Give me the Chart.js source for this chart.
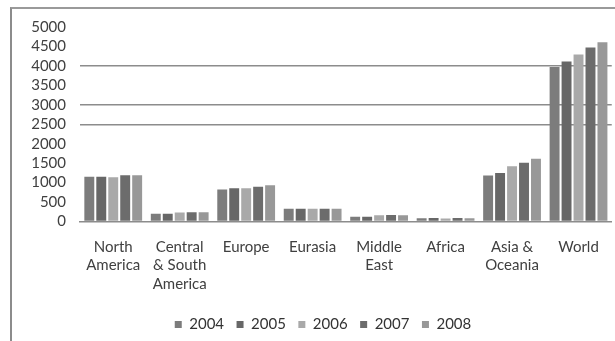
<!DOCTYPE html>
<html>
<head>
    <title>Regional bars 2004-2008</title>
    <script src="https://cdn.jsdelivr.net/npm/chart.js"></script>
    <style>
        body {
            margin: 0;
            background: #ffffff;
        }

        .wrap {
            position: relative;
            width: 615px;
            height: 341px;
        }

        .frame {
            position: absolute;
            left: 10px;
            top: 7px;
            right: 0;
            bottom: 0;
            border-left: 2px solid #8c8c8c;
            border-top: 2px solid #9a9a9a;
        }

        canvas {
            position: absolute;
            left: 0;
            top: 0;
        }
    </style>
</head>
<body>
    <div class="wrap">
        <div class="frame"></div>
        <canvas id="myChart" width="615" height="341"></canvas>
    </div>

    <script>
        const regions = [
            ['North', 'America'],
            ['Central', '& South', 'America'],
            'Europe',
            'Eurasia',
            ['Middle', 'East'],
            'Africa',
            ['Asia &', 'Oceania'],
            'World'
        ]
        const years = ['2004', '2005', '2006', '2007', '2008']
        const v2004 = [1150, 200, 820, 330, 120, 86, 1185, 3970]
        const v2005 = [1150, 200, 855, 330, 120, 88, 1245, 4115]
        const v2006 = [1140, 230, 855, 330, 160, 80, 1420, 4290]
        const v2007 = [1190, 235, 895, 330, 165, 88, 1510, 4475]
        const v2008 = [1190, 235, 930, 330, 160, 85, 1615, 4605]
        const yTicks = [0, 500, 1000, 1500, 2000, 2500, 3000, 3500, 4000, 4500, 5000]
        // only these rules show up behind the bars
        const shownRules = [2500, 3000, 4000]

        const colors = ['#7c7c7c', '#676767', '#a9a9a9', '#6c6c6c', '#989898']
        const series = [v2004, v2005, v2006, v2007, v2008]

        // the legend sits centred under the plot, not under the whole canvas
        const legendShift = {
            id: 'legendShift',
            afterLayout(chart) {
                chart.legend.left += 17
                chart.legend.right += 17
            }
        }

        const ctx = document.getElementById('myChart').getContext('2d')

        const myChart = new Chart(ctx, {
            type: 'bar',
            data: {
                labels: regions,
                datasets: years.map((y, i) => ({
                    label: y,
                    data: series[i],
                    backgroundColor: colors[i],
                    borderWidth: 0,
                    barPercentage: 0.83,
                    categoryPercentage: 0.9
                }))
            },
            plugins: [legendShift],
            options: {
                responsive: false,
                animation: false,
                layout: {
                    padding: { top: 27, right: 3, bottom: -1, left: 0 }
                },
                plugins: {
                    tooltip: { enabled: false },
                    legend: {
                        position: 'bottom',
                        labels: {
                            boxWidth: 7,
                            boxHeight: 7,
                            padding: 12.5,
                            color: '#333333',
                            font: { family: 'Lato', size: 15 }
                        }
                    }
                },
                scales: {
                    x: {
                        grid: { display: false, drawTicks: false },
                        border: { display: true, color: '#8c8c8c', width: 1.5 },
                        ticks: {
                            color: '#404040',
                            padding: 16,
                            maxRotation: 0,
                            autoSkip: false,
                            font: { family: 'Lato', size: 15, lineHeight: 1.25 }
                        },
                        afterFit: (scale) => { scale.height = 83 }
                    },
                    y: {
                        min: 0,
                        max: 5000,
                        afterBuildTicks: (scale) => {
                            scale.ticks = yTicks.map(v => ({ value: v }))
                        },
                        grid: {
                            drawTicks: false,
                            lineWidth: 1.5,
                            color: (c) => shownRules.includes(c.tick.value) ? '#8c8c8c' : 'rgba(0,0,0,0)'
                        },
                        border: { display: false },
                        ticks: {
                            color: '#404040',
                            padding: 14,
                            autoSkip: false,
                            font: { family: 'Lato', size: 15 },
                            callback: (v) => String(v)
                        },
                        afterFit: (scale) => { scale.width = 80 }
                    }
                }
            }
        })
    </script>
</body>
</html>
